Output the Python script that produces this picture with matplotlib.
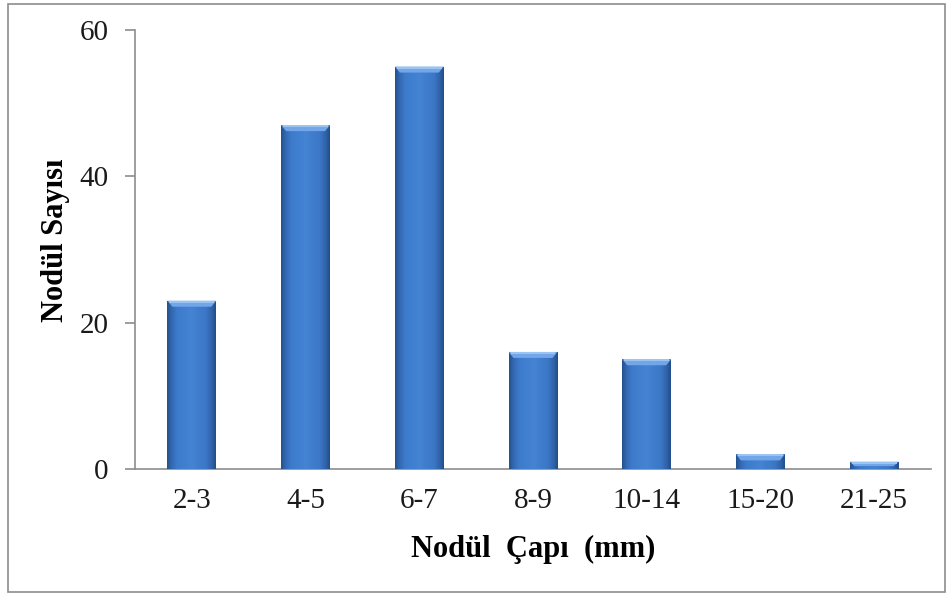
import matplotlib.pyplot as plt
import numpy as np
from matplotlib.colors import LinearSegmentedColormap
from matplotlib.patches import Polygon, Rectangle

categories = ["2-3", "4-5", "6-7", "8-9", "10-14", "15-20", "21-25"]
counts = [23, 47, 55, 16, 15, 2, 1]
y_ticks = [0, 20, 40, 60]

plt.rcParams["font.family"] = ["Liberation Serif", "DejaVu Serif"]

fig = plt.figure(figsize=(9.5, 5.97), dpi=100)
ax = fig.add_axes([135 / 950, 1 - 469 / 597, 796 / 950, 439 / 597])

# Excel-style shading: dark rims, lighter body
shade = LinearSegmentedColormap.from_list(
    "shade",
    [(0.0, "#234f8c"), (0.08, "#3266ae"), (0.2, "#3d7acb"), (0.5, "#4484d3"),
     (0.8, "#3b77c6"), (0.92, "#2f62a8"), (1.0, "#224d88")],
)
grad = np.linspace(0, 1, 256).reshape(1, -1)

bar_w = 0.43
px_x = 1 / 113.7   # one pixel in category units
px_y = 60 / 439    # one pixel in count units

x = np.arange(len(categories))
bars = ax.bar(x, counts, width=bar_w, color="#3d7acb", edgecolor="none", zorder=2)
for b in bars:
    x0, y0, w, h = b.get_x(), b.get_y(), b.get_width(), b.get_height()
    im = ax.imshow(grad, cmap=shade, aspect="auto", extent=(x0, x0 + w, y0, y0 + h),
                   zorder=3, interpolation="bicubic")
    im.set_clip_path(b)
    # bevel on the top edge
    top = y0 + h
    bev = min(6 * px_y, h * 0.6)
    ins = 5 * px_x
    ax.add_patch(Polygon([(x0, top), (x0 + w, top), (x0 + w - ins, top - bev),
                          (x0 + ins, top - bev)], closed=True,
                         facecolor="#72a6e8", edgecolor="none", zorder=4))
    ax.add_patch(Rectangle((x0 + ins * 0.4, top - 2 * px_y), w - ins * 0.8, 2 * px_y,
                           facecolor="#9cc4f2", edgecolor="none", zorder=5))

ax.set_xlim(-0.5, len(categories) - 0.5)
ax.set_ylim(0, 60)
ax.set_yticks(y_ticks)
ax.set_xticks(x)
ax.set_xticklabels(categories)

for side in ("top", "right"):
    ax.spines[side].set_visible(False)
for side in ("left", "bottom"):
    ax.spines[side].set_color("#8c8c8c")
    ax.spines[side].set_linewidth(1.2)

ax.tick_params(axis="y", length=7, width=1.2, color="#8c8c8c", labelsize=21,
               pad=12, labelcolor="#1a1a1a")
ax.tick_params(axis="x", length=0, labelsize=21, pad=14, labelcolor="#1a1a1a")

ax.set_xlabel("Nodül  Çapı  (mm)", fontsize=22, fontweight="bold", labelpad=15)
ax.set_ylabel("Nodül Sayısı", fontsize=22, fontweight="bold", labelpad=9)
ax.yaxis.set_label_coords(-0.082, 0.52)

# outer chart frame
fig.patches.append(Rectangle((8 / 950, 5 / 597), 937 / 950, 588 / 597,
                             transform=fig.transFigure, fill=False,
                             edgecolor="#8c8c8c", linewidth=1.2))

fig.savefig("out.png", dpi=100)
